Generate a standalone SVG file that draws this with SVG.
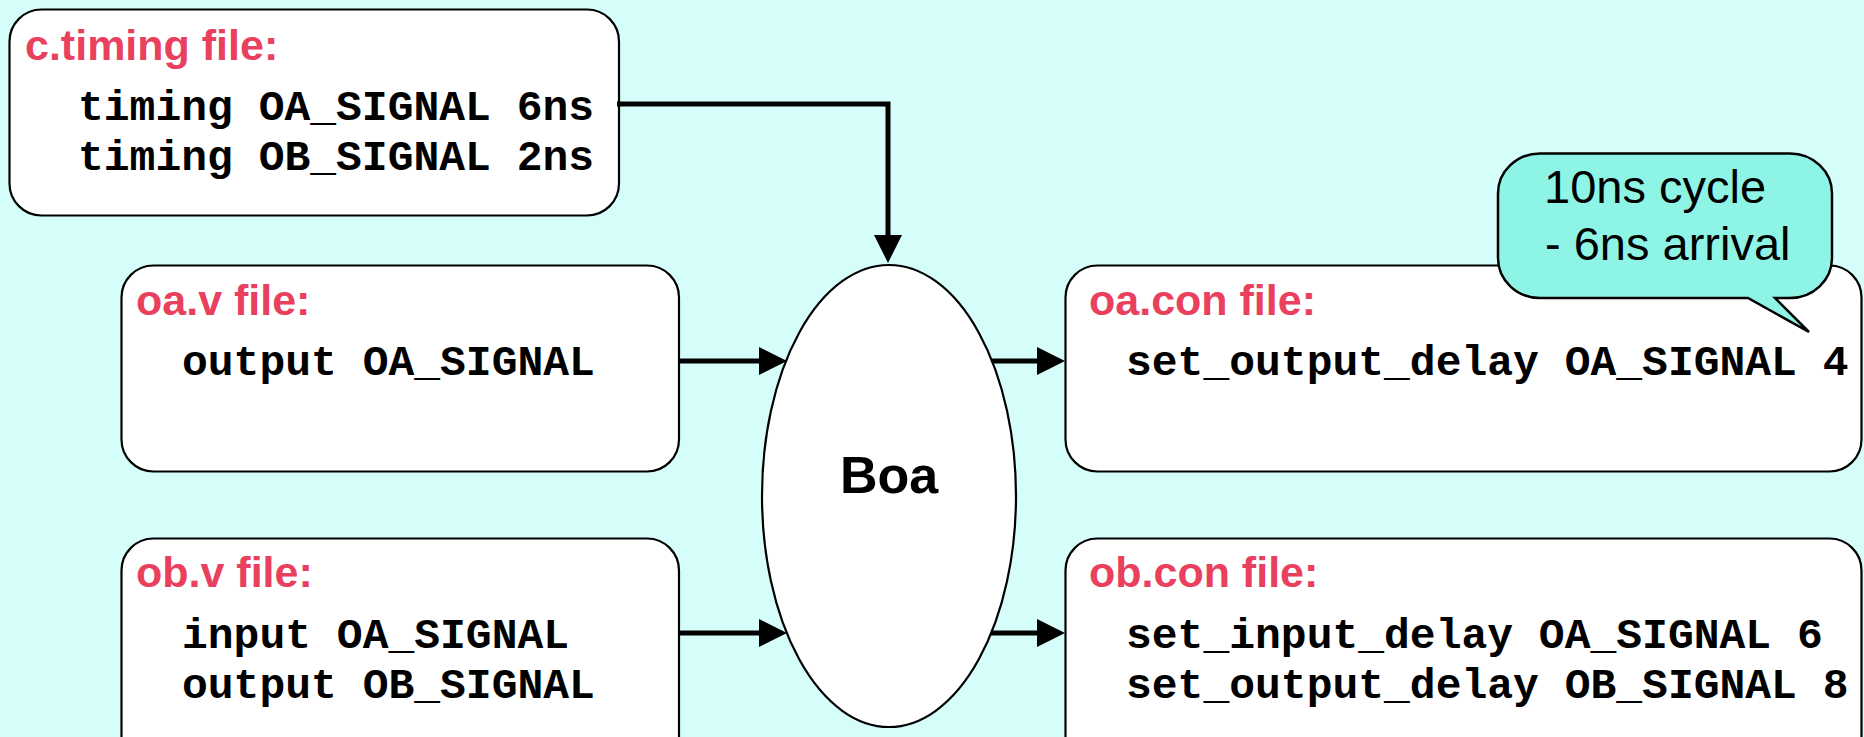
<svg xmlns="http://www.w3.org/2000/svg" width="1864" height="737" viewBox="0 0 1864 737">
<style>
.box{fill:#FFFFFF;stroke:#000000;stroke-width:2.2}
.lbl{font-family:"Liberation Sans",Arial,sans-serif;font-weight:bold;font-size:43px;fill:#E9405E}
.code{font-family:"Liberation Mono","Courier New",monospace;font-weight:bold;font-size:43px;fill:#000000}
.conn{fill:none;stroke:#000000;stroke-width:5}
.note{font-family:"Liberation Sans",Arial,sans-serif;font-size:47px;fill:#000000}
</style>
<defs>
<marker id="arr" markerUnits="userSpaceOnUse" markerWidth="28" markerHeight="28" refX="2" refY="14" orient="auto" viewBox="0 0 28 28">
<path d="M0,0 L28,14 L0,28 Z" fill="#000000"/>
</marker>
</defs>
<rect x="0" y="0" width="1864" height="737" fill="#D5FEFB"/>

<g id="ctiming">
<rect class="box" x="9.5" y="9.5" width="609.5" height="206" rx="32" ry="32"/>
<text class="lbl" x="25" y="60">c.timing file:</text>
<text class="code" x="78" y="120">timing OA_SIGNAL 6ns</text>
<text class="code" x="78" y="170">timing OB_SIGNAL 2ns</text>
</g>

<g id="oav">
<rect class="box" x="121.5" y="265.5" width="557.5" height="206" rx="32" ry="32"/>
<text class="lbl" x="136" y="315">oa.v file:</text>
<text class="code" x="182" y="375">output OA_SIGNAL</text>
</g>

<g id="obv">
<rect class="box" x="121.5" y="538.5" width="557.5" height="230" rx="32" ry="32"/>
<text class="lbl" x="136" y="587">ob.v file:</text>
<text class="code" x="182" y="648">input OA_SIGNAL</text>
<text class="code" x="182" y="698">output OB_SIGNAL</text>
</g>

<g id="oacon">
<rect class="box" x="1065.5" y="265.5" width="796" height="206" rx="32" ry="32"/>
<text class="lbl" x="1089" y="315">oa.con file:</text>
<text class="code" x="1126" y="375">set_output_delay OA_SIGNAL 4</text>
</g>

<g id="obcon">
<rect class="box" x="1065.5" y="538.5" width="796" height="230" rx="32" ry="32"/>
<text class="lbl" x="1089" y="587">ob.con file:</text>
<text class="code" x="1126" y="648">set_input_delay OA_SIGNAL 6</text>
<text class="code" x="1126" y="698">set_output_delay OB_SIGNAL 8</text>
</g>

<g id="connectors">
<path class="conn" d="M617,104 H888 V237" marker-end="url(#arr)"/>
<path class="conn" d="M679,361 H761" marker-end="url(#arr)"/>
<path class="conn" d="M679,633 H761" marker-end="url(#arr)"/>
<path class="conn" d="M990,361 H1039" marker-end="url(#arr)"/>
<path class="conn" d="M990,633 H1039" marker-end="url(#arr)"/>
</g>

<g id="boa">
<ellipse cx="889" cy="496" rx="127" ry="231" fill="#FFFFFF" stroke="#000000" stroke-width="2.2"/>
<text x="889" y="493" text-anchor="middle" font-family="'Liberation Sans',Arial,sans-serif" font-weight="bold" font-size="52" fill="#000000">Boa</text>
</g>

<g id="callout">
<path d="M1540,153.5 H1790 A42 40 0 0 1 1832,193.5 V258 A42 40 0 0 1 1790,298 H1775 L1809,332 L1748,298 H1540 A42 40 0 0 1 1498,258 V193.5 A42 40 0 0 1 1540,153.5 Z" fill="#8EF5E6" stroke="#000000" stroke-width="2.5"/>
<text class="note" x="1544" y="203">10ns cycle</text>
<text class="note" x="1545" y="260">- 6ns arrival</text>
</g>
</svg>
